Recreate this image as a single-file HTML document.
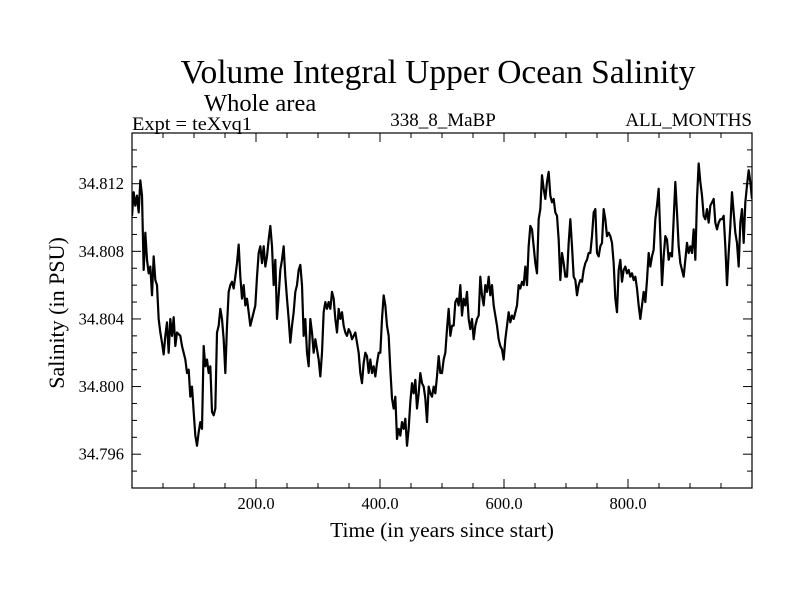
<!DOCTYPE html>
<html><head><meta charset="utf-8"><style>
body{margin:0;background:#fff}
svg text{font-family:"Liberation Serif",serif;fill:#000}
</style></head><body>
<svg id="chart" width="800" height="600" viewBox="0 0 800 600" xmlns="http://www.w3.org/2000/svg">
<text x="438" y="83" font-size="33.5" text-anchor="middle">Volume Integral Upper Ocean Salinity</text>
<text x="204" y="111" font-size="24.5">Whole area</text>
<text x="132" y="130" font-size="19" textLength="120" lengthAdjust="spacingAndGlyphs">Expt = teXvq1</text>
<text x="443" y="126" font-size="19" text-anchor="middle">338_8_MaBP</text>
<text x="752" y="126" font-size="19" text-anchor="end">ALL_MONTHS</text>
<text x="442" y="537" font-size="21.5" text-anchor="middle">Time (in years since start)</text>
<text x="0" y="0" font-size="22" text-anchor="middle" transform="translate(64,313) rotate(-90)">Salinity (in PSU)</text>
<defs><clipPath id="clip"><rect x="132" y="133" width="620" height="355"/></clipPath></defs>
<g id="ticks"></g>
<g id="series" clip-path="url(#clip)"></g>
<rect x="132" y="133" width="620" height="355" fill="none" stroke="#000" stroke-width="1.2"/>
</svg>
<script>
const xTicks = [200, 400, 600, 800];
const xTickLabels = ["200.0", "400.0", "600.0", "800.0"];
const yTicks = [34.796, 34.800, 34.804, 34.808, 34.812];
const yTickLabels = ["34.796", "34.800", "34.804", "34.808", "34.812"];
const yearStart = 0;
const yearEnd = 1000;
const salinity = [
34.8101,34.8115,34.8107,34.8113,34.8103,34.8122,34.8113,34.8069,34.8091,34.8075,34.8067,34.8071,34.8054,34.8077,34.8063,34.8060,34.8040,34.8032,34.8026,34.8019,
34.8030,34.8038,34.8020,34.8040,34.8030,34.8041,34.8024,34.8032,34.8031,34.8030,34.8024,34.8020,34.8016,34.8008,34.8010,34.7994,34.8000,34.7985,34.7971,34.7965,
34.7973,34.7979,34.7975,34.8024,34.8012,34.8016,34.8008,34.8012,34.7985,34.7983,34.7987,34.8032,34.8036,34.8046,34.8040,34.8028,34.8008,34.8036,34.8056,34.8060,
34.8062,34.8058,34.8065,34.8073,34.8084,34.8065,34.8052,34.8060,34.8048,34.8052,34.8044,34.8036,34.8040,34.8044,34.8048,34.8065,34.8079,34.8083,34.8073,34.8083,
34.8071,34.8077,34.8087,34.8095,34.8083,34.8060,34.8075,34.8040,34.8054,34.8069,34.8075,34.8083,34.8065,34.8052,34.8040,34.8026,34.8036,34.8044,34.8056,34.8060,
34.8069,34.8072,34.8060,34.8030,34.8040,34.8020,34.8012,34.8040,34.8032,34.8020,34.8028,34.8022,34.8016,34.8006,34.8020,34.8044,34.8050,34.8046,34.8050,34.8046,
34.8056,34.8052,34.8040,34.8032,34.8046,34.8040,34.8044,34.8036,34.8032,34.8030,34.8034,34.8032,34.8028,34.8030,34.8032,34.8026,34.8020,34.8008,34.8002,34.8014,
34.8020,34.8018,34.8008,34.8016,34.8008,34.8012,34.8006,34.8014,34.8020,34.8020,34.8040,34.8054,34.8048,34.8036,34.8030,34.8010,34.7993,34.7987,34.7994,34.7969,
34.7975,34.7971,34.7979,34.7975,34.7981,34.7965,34.7975,34.7991,34.8002,34.7996,34.8004,34.7987,34.7996,34.8008,34.8002,34.8000,34.7993,34.7979,34.8000,34.7996,
34.7994,34.8000,34.7996,34.8006,34.8018,34.8008,
34.8008,34.8016,34.8020,34.8034,34.8046,34.8030,34.8036,34.8036,34.8050,34.8052,34.8048,34.8060,34.8042,34.8052,34.8048,34.8056,34.8040,34.8034,34.8040,34.8028,
34.8036,34.8040,34.8042,34.8065,34.8054,34.8048,34.8060,34.8056,34.8065,34.8054,34.8060,34.8048,34.8042,34.8036,34.8028,34.8024,34.8022,34.8016,34.8028,34.8036,
34.8044,34.8038,34.8042,34.8040,34.8044,34.8048,34.8060,34.8058,34.8062,34.8060,34.8071,34.8060,34.8083,34.8095,34.8093,34.8083,34.8073,34.8067,34.8099,34.8105,
34.8125,34.8117,34.8111,34.8121,34.8127,34.8113,34.8109,34.8111,34.8103,34.8101,34.8087,34.8063,34.8079,34.8073,34.8065,34.8065,34.8085,34.8099,34.8083,34.8065,
34.8063,34.8054,34.8060,34.8063,34.8062,34.8069,34.8073,34.8075,34.8079,34.8079,34.8089,34.8103,34.8105,34.8079,34.8077,34.8083,34.8085,34.8105,34.8099,34.8089,
34.8091,34.8089,34.8085,34.8073,34.8052,34.8044,34.8069,34.8075,34.8062,34.8069,34.8071,34.8067,34.8069,34.8065,34.8067,34.8063,34.8065,34.8058,34.8048,34.8040,
34.8048,34.8056,34.8050,34.8063,34.8079,34.8071,34.8077,34.8081,34.8099,34.8107,34.8117,34.8089,34.8060,34.8077,34.8089,34.8087,34.8075,34.8079,34.8077,34.8099,
34.8121,34.8103,34.8083,34.8073,34.8069,34.8065,34.8075,34.8085,34.8079,34.8083,34.8079,34.8093,34.8075,34.8111,34.8132,34.8121,34.8113,34.8101,34.8099,34.8105,
34.8097,34.8107,34.8109,34.8111,34.8097,34.8093,34.8097,34.8099,34.8099,34.8101,34.8083,34.8060,34.8079,34.8095,34.8115,34.8103,34.8091,34.8085,34.8071,34.8097,
34.8105,34.8085,34.8109,34.8119,34.8128,34.8121,34.8111
];
const L=132,R=752,T=133,B=488, yMin=34.794, yMax=34.815;
const NS="http://www.w3.org/2000/svg";
function xs(v){return L+(v-0)/(1000-0)*(R-L);}
function ys(v){return B-(v-yMin)/(yMax-yMin)*(B-T);}
const svg=document.getElementById('chart');
const tg=document.getElementById('ticks');
function line(x1,y1,x2,y2,name){
  const l=document.createElementNS(NS,'line');
  l.setAttribute('x1',x1);l.setAttribute('y1',y1);l.setAttribute('x2',x2);l.setAttribute('y2',y2);
  l.setAttribute('stroke','#000');l.setAttribute('stroke-width','1');
  
  
  tg.appendChild(l);
}
for(let v=50;v<1000;v+=50){
  const x=xs(v), len=(v%200===0)?9:5;
  line(x,B,x,B-len,'x-tick');
  line(x,T,x,T+len,'x-tick-top');
}
for(let k=0;k<=21;k++){
  const v=yMin+k*0.001, y=ys(v);
  if(y<=T+0.5||y>=B-0.5) continue;
  const major=yTicks.some(t=>Math.abs(t-v)<1e-6), len=major?9:5;
  line(L,y,L+len,y,'y-tick');
  line(R,y,R-len,y,'y-tick-right');
}
xTicks.forEach((v,i)=>{
  const t=document.createElementNS(NS,'text');
  t.setAttribute('x',xs(v));t.setAttribute('y',509);t.setAttribute('font-size','16.5');t.setAttribute('text-anchor','middle');
  t.textContent=xTickLabels[i];
  
  
  svg.appendChild(t);
});
yTicks.forEach((v,i)=>{
  const t=document.createElementNS(NS,'text');
  t.setAttribute('x',124);t.setAttribute('y',ys(v)+5.5);t.setAttribute('font-size','16.5');t.setAttribute('text-anchor','end');
  t.textContent=yTickLabels[i];
  
  
  svg.appendChild(t);
});
const n=salinity.length;
let d='';
salinity.forEach((v,i)=>{
  const yr=yearStart+i*(yearEnd-yearStart)/(n-1);
  d+=(i?'L':'M')+xs(yr).toFixed(2)+','+ys(v).toFixed(2);
});
const p=document.createElementNS(NS,'path');
p.setAttribute('d',d);p.setAttribute('fill','none');p.setAttribute('stroke','#000');
p.setAttribute('stroke-width','2.2');p.setAttribute('stroke-linejoin','round');


document.getElementById('series').appendChild(p);
</script>
</body></html>
